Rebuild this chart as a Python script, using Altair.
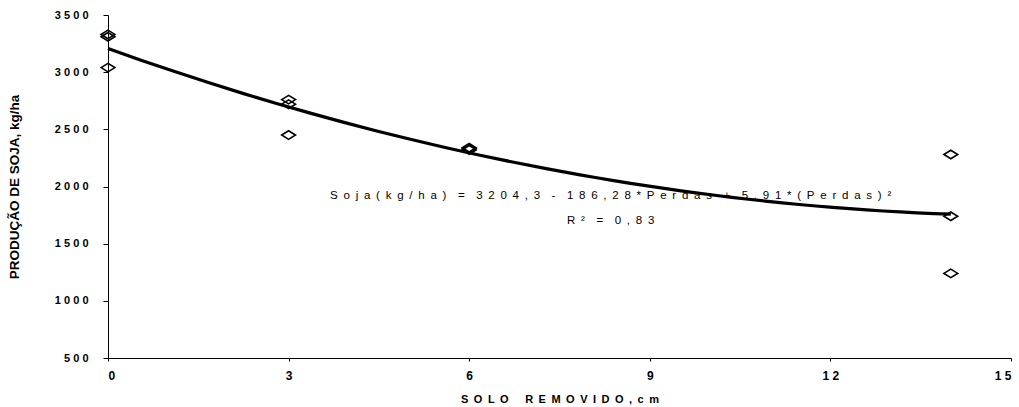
import altair as alt
import pandas as pd

# Observed points (solo removido, cm ; produção de soja, kg/ha)
solo_cm = [0, 0, 0, 3, 3, 3, 6, 6, 6, 14, 14, 14]
producao = [3330, 3310, 3040, 2760, 2720, 2450, 2340, 2330, 2320, 2280, 1740, 1240]

x_ticks = [0, 3, 6, 9, 12, 15]
y_ticks = [500, 1000, 1500, 2000, 2500, 3000, 3500]

SP = "\u2002"  # en space, kept by SVG
def spaced(s):
    return s.replace(" ", SP)

eq_lines = [
    spaced("S o j a ( k g / h a )  =  3 2 0 4 , 3  -  1 8 6 , 2 8 * P e r d a s  +  5 , 9 1 * ( P e r d a s ) ²"),
    spaced("R ²  =  0 , 8 3"),
]
eq_x = [8.35, 8.35]
eq_y = [1915, 1700]

df = pd.DataFrame({"x": solo_cm, "y": producao})
ann = pd.DataFrame({"x": eq_x, "y": eq_y, "t": eq_lines})

FONT = "Liberation Sans"
W, H = 903, 343

xs = alt.Scale(domain=[0, 15], nice=False, zero=False)
ys = alt.Scale(domain=[500, 3500], nice=False, zero=False)

spacer = "join(split(datum.label, ''), '\u00a0')"

x_axis = alt.Axis(
    values=x_ticks, format="d", title=spaced("S O L O   R E M O V I D O , c m"), grid=False,
    labelExpr=spacer,
    labelFont=FONT, labelFontSize=12, labelFontWeight="bold", labelColor="black",
    tickSize=3, tickColor="black", domainColor="black", labelPadding=9,
    titleFont=FONT, titleFontSize=11, titleFontWeight="bold", titleColor="black",
    titleY=41, titleBaseline="middle",
)
y_axis = alt.Axis(
    values=y_ticks, format="d", title="PRODUÇÃO DE SOJA, kg/ha", grid=False,
    labelExpr=spacer,
    labelFont=FONT, labelFontSize=11, labelFontWeight="bold", labelColor="black",
    tickSize=5, tickColor="black", domainColor="black", labelPadding=15,
    titleFont=FONT, titleFontSize=13.5, titleFontWeight="bold", titleColor="black",
    titleX=-94, titleY=H / 2, titleAngle=270, titleBaseline="middle", titleAlign="center",
)

diamond = "M -1 0 L 0 -0.62 L 1 0 L 0 0.62 Z"

points = alt.Chart(df).mark_point(
    shape=diamond, size=190, filled=False, color="black", strokeWidth=1.6, opacity=1,
    clip=False,
).encode(
    x=alt.X("x:Q", scale=xs, axis=x_axis),
    y=alt.Y("y:Q", scale=ys, axis=y_axis),
)

fit = alt.Chart(df).transform_regression(
    "x", "y", method="poly", order=2, extent=[0, 14]
).mark_line(color="black", strokeWidth=3.2).encode(
    x=alt.X("x:Q", scale=xs),
    y=alt.Y("y:Q", scale=ys),
)

text = alt.Chart(ann).mark_text(
    font=FONT, fontSize=11.5, color="black", align="center", baseline="middle"
).encode(
    x=alt.X("x:Q", scale=xs),
    y=alt.Y("y:Q", scale=ys),
    text="t:N",
)

chart = alt.layer(fit, points, text).properties(
    width=W, height=H,
    autosize=alt.AutoSizeParams(type="none"),
    padding={"left": 108, "top": 15, "right": 8, "bottom": 49},
    background="white",
).configure_view(stroke=None)

chart.save("out.html", embed_options={"renderer": "svg", "actions": False})
